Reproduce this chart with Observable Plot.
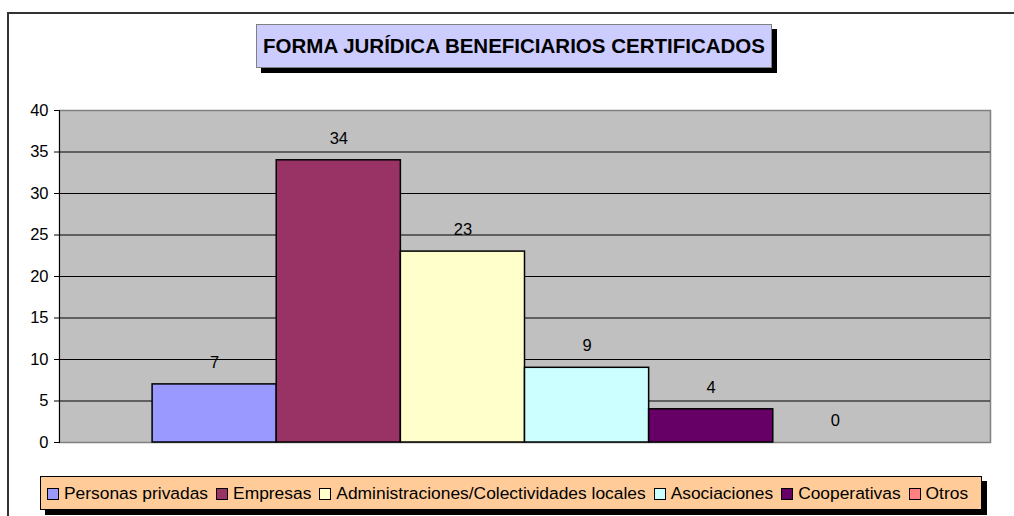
<!DOCTYPE html>
<html>
<head>
<meta charset="utf-8">
<script src="https://cdn.jsdelivr.net/npm/d3@7"></script>
<script src="https://cdn.jsdelivr.net/npm/@observablehq/plot@0.6"></script>
<style>
  html, body { margin: 0; padding: 0; background: #fff; width: 1014px; height: 516px; overflow: hidden; font-family: "Liberation Sans", Arial, sans-serif; }
  #page { position: relative; width: 1014px; height: 516px; }
  #outer { position: absolute; left: 7px; top: 12px; width: 1010px; height: 510px; border-left: 2px solid #333; border-top: 2px solid #333; box-sizing: border-box; }
  #title { position: absolute; left: 256px; top: 24px; width: 516px; height: 44px; box-sizing: border-box; background: #CCCCFF; border: 1px solid #808080; box-shadow: 5px 5px 0 #000; display: flex; align-items: center; justify-content: center; font-weight: bold; font-size: 20.5px; color: #000; margin: 0; }
  #chart { position: absolute; left: 0; top: 95px; }
  #legend { position: absolute; left: 40px; top: 476px; width: 942px; height: 34px; box-sizing: border-box; background: #FFCC99; border: 1px solid #000; box-shadow: 5px 5px 0 #000; display: flex; align-items: center; padding-left: 6px; font-size: 17.4px; color: #000; white-space: nowrap; }
  .item { display: flex; align-items: center; margin-right: 8px; }
  .sw { width: 10px; height: 10px; border: 1px solid #000; margin-right: 5px; margin-top: 2px; flex: none; }
</style>
</head>
<body>
<div id="page">
  <div id="outer"></div>
  <div id="title">FORMA JURÍDICA BENEFICIARIOS CERTIFICADOS</div>
  <div id="chart"></div>
  <div id="legend"></div>
</div>
<script>
const categorias = ["Personas privadas", "Empresas", "Administraciones/Colectividades locales", "Asociaciones", "Cooperativas", "Otros"];
const valores = [7, 34, 23, 9, 4, 0];
const colores = ["#9999FF", "#993366", "#FFFFCC", "#CCFFFF", "#660066", "#FF8080"];
const ticksY = [0, 5, 10, 15, 20, 25, 30, 35, 40];

const datos = categorias.map((c, i) => ({cat: c, val: valores[i]}));

const plot = Plot.plot({
  width: 1014,
  height: 360,
  marginLeft: 59,
  marginRight: 24,
  marginTop: 15,
  marginBottom: 13,
  style: {fontFamily: "'Liberation Sans', Arial, sans-serif", fontSize: "16px", color: "#000", background: "transparent", overflow: "visible"},
  x: {type: "band", domain: categorias, paddingInner: 0, paddingOuter: 0.75, round: false, axis: null},
  y: {domain: [0, 40], axis: null, label: null},
  color: {domain: categorias, range: colores},
  marks: [
    Plot.frame({fill: "#C0C0C0", stroke: "#808080", strokeWidth: 1.5}),
    Plot.gridY(ticksY.filter(t => t > 0 && t < 40), {stroke: "#000", strokeOpacity: 1, strokeWidth: 1}),
    Plot.barY(datos.filter(d => d.val > 0), {x: "cat", y: "val", fill: "cat", stroke: "#000", strokeWidth: 1.5}),
    Plot.text(datos, {x: "cat", y: "val", text: d => String(d.val), dy: -22, fontSize: 16.5, fill: "#000"}),
    Plot.frame({anchor: "left", stroke: "#000", strokeWidth: 1}),
    Plot.axisY(ticksY, {tickSize: 5, tickPadding: 6, stroke: "#000", fill: "#000", fontSize: 16.5, label: null})
  ]
});
document.getElementById("chart").appendChild(plot);

const legend = document.getElementById("legend");
categorias.forEach((c, i) => {
  const it = document.createElement("div");
  it.className = "item";
  const sw = document.createElement("div");
  sw.className = "sw";
  sw.style.background = colores[i];
  const t = document.createElement("span");
  t.textContent = c;
  it.appendChild(sw);
  it.appendChild(t);
  legend.appendChild(it);
});
</script>
</body>
</html>
